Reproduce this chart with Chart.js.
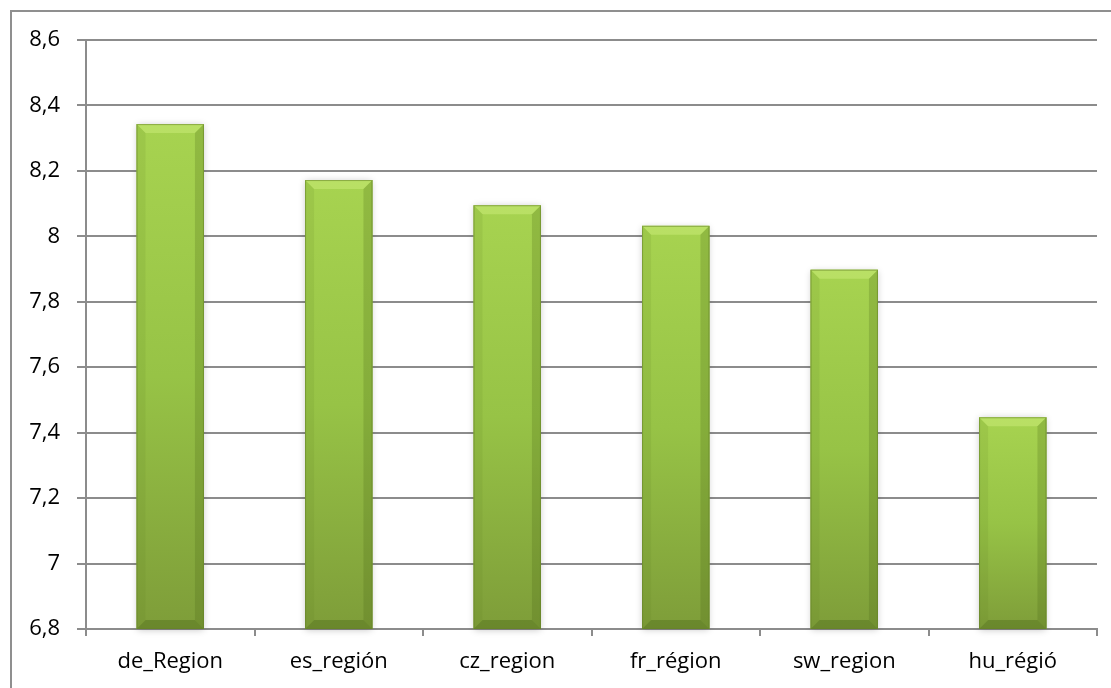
<!DOCTYPE html>
<html>
<head>
<meta charset="utf-8">
<script src="https://cdn.jsdelivr.net/npm/chart.js@4.4.1/dist/chart.umd.min.js"></script>
<style>
html,body{margin:0;padding:0;background:#fff;}
#wrap{position:relative;width:1111px;height:688px;}
</style>
</head>
<body>
<div id="wrap"><canvas id="c" width="1111" height="688"></canvas></div>
<script>
const categories = ["de_Region", "es_región", "cz_region", "fr_région", "sw_region", "hu_régió"];
const values = [8.343, 8.172, 8.095, 8.032, 7.898, 7.447];
const yMin = 6.8, yMax = 8.6, yStep = 0.2;

const FONT = "'Open Sans', Lato, sans-serif";
const GRID = '#8c8c8c';

function barGradient(ctx) {
  const chart = ctx.chart;
  if (!chart.chartArea || ctx.parsed === undefined) return '#98C447';
  const ys = chart.scales.y;
  const top = ys.getPixelForValue(ctx.parsed.y);
  const bottom = ys.getPixelForValue(ys.min);
  if (!isFinite(top) || !isFinite(bottom) || bottom - top < 1) return '#98C447';
  const g = chart.ctx.createLinearGradient(0, top, 0, bottom);
  g.addColorStop(0, '#A7D350');
  g.addColorStop(0.5, '#97C346');
  g.addColorStop(1, '#7E9D39');
  return g;
}

const framePlugin = {
  id: 'frame',
  beforeDraw(chart) {
    const c = chart.ctx;
    c.save();
    c.strokeStyle = '#8f8f8f';
    c.lineWidth = 2;
    c.beginPath();
    c.moveTo(11, 688);
    c.lineTo(11, 11);
    c.lineTo(1111, 11);
    c.stroke();
    c.restore();
  }
};

function barBox(chart, b) {
  const ys = chart.scales.y;
  const bottom = Math.min(b.base, ys.getPixelForValue(ys.min));
  return { x0: b.x - b.width / 2, x1: b.x + b.width / 2, y0: b.y, y1: bottom };
}

const bevelPlugin = {
  id: 'bevel',
  beforeDatasetsDraw(chart) {
    const c = chart.ctx;
    const meta = chart.getDatasetMeta(0);
    c.save();
    meta.data.forEach(b => {
      const { x0, x1, y0, y1 } = barBox(chart, b);
      c.shadowColor = 'rgba(0,0,0,0.22)';
      c.shadowBlur = 7;
      c.shadowOffsetX = 0;
      c.shadowOffsetY = 1;
      c.fillStyle = '#8aa844';
      c.fillRect(x0, y0, x1 - x0, y1 - y0);
    });
    c.restore();
  },
  afterDatasetsDraw(chart) {
    const c = chart.ctx;
    const meta = chart.getDatasetMeta(0);
    c.save();
    meta.data.forEach(b => {
      const { x0, x1, y0, y1 } = barBox(chart, b);
      const d = 9;
      c.fillStyle = 'rgba(220,250,140,0.35)';
      c.beginPath();
      c.moveTo(x0, y0); c.lineTo(x1, y0); c.lineTo(x1 - d, y0 + d); c.lineTo(x0 + d, y0 + d); c.closePath();
      c.fill();
      c.fillStyle = 'rgba(90,120,30,0.12)';
      c.beginPath();
      c.moveTo(x0, y0); c.lineTo(x0 + d, y0 + d); c.lineTo(x0 + d, y1 - d); c.lineTo(x0, y1); c.closePath();
      c.fill();
      c.fillStyle = 'rgba(70,95,20,0.22)';
      c.beginPath();
      c.moveTo(x1, y0); c.lineTo(x1 - d, y0 + d); c.lineTo(x1 - d, y1 - d); c.lineTo(x1, y1); c.closePath();
      c.fill();
      c.fillStyle = 'rgba(60,85,15,0.3)';
      c.beginPath();
      c.moveTo(x0, y1); c.lineTo(x0 + d, y1 - d); c.lineTo(x1 - d, y1 - d); c.lineTo(x1, y1); c.closePath();
      c.fill();
      c.strokeStyle = 'rgba(100,130,40,0.55)';
      c.lineWidth = 1;
      c.strokeRect(x0 + 0.5, y0 + 0.5, x1 - x0 - 1, y1 - y0 - 1);
    });
    c.restore();
  }
};

new Chart(document.getElementById('c'), {
  type: 'bar',
  data: {
    labels: categories,
    datasets: [{
      data: values,
      backgroundColor: barGradient,
      borderWidth: 0,
      categoryPercentage: 0.4,
      barPercentage: 1.0
    }]
  },
  options: {
    responsive: false,
    animation: false,
    devicePixelRatio: 1,
    layout: { padding: { top: 40, right: 14, bottom: 0, left: 0 } },
    plugins: { legend: { display: false }, tooltip: { enabled: false } },
    scales: {
      x: {
        grid: { display: true, drawOnChartArea: false, drawTicks: true, tickLength: 7, color: GRID, lineWidth: 2, offset: true },
        border: { display: true, color: GRID, width: 2 },
        ticks: { color: '#000', font: { family: FONT, size: 22 }, padding: 13, maxRotation: 0 },
        afterFit(s) { s.height = 59; }
      },
      y: {
        min: yMin, max: yMax,
        grid: { color: GRID, lineWidth: 2, tickLength: 9, drawTicks: true },
        border: { display: true, color: GRID, width: 2 },
        ticks: {
          stepSize: yStep, color: '#000', font: { family: FONT, size: 22 }, padding: 17,
          callback: v => (Math.round(v * 10) / 10).toString().replace('.', ',')
        },
        afterFit(s) { s.width = 86; }
      }
    }
  },
  plugins: [framePlugin, bevelPlugin]
});
</script>
</body>
</html>
